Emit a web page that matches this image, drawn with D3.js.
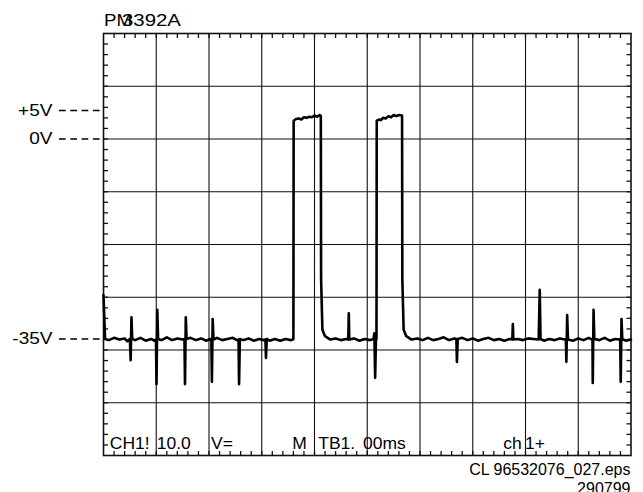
<!DOCTYPE html>
<html><head><meta charset="utf-8">
<script src="https://cdn.jsdelivr.net/npm/d3@7"></script>
<style>html,body{margin:0;padding:0;background:#fff;}svg{display:block;}text{font-family:"Liberation Sans",Arial,sans-serif;fill:#000;}</style>
</head><body><svg id="c" width="643" height="492"></svg>
<script>
// ---- data ----
const title = ["PM", "3392A"];
const levelLabels = ["+5V", "0V", "-35V"];
const levelValues = [5, 0, -35];
const statusTokens = ["CH1!", "10.0", "V=", "M", "TB1.", "00ms", "ch", "1+"];
const statusDivs = [0.12, 1.01, 2.04, 3.58, 4.07, 4.92, 7.58, 7.99];
const footer = ["CL 96532076_027.eps", "290799"];
const timeMs = [
 0,0.03,0.1,0.2,0.3,0.4,0.45,
 0.5,0.515,0.53,0.545,
 0.6,0.7,0.8,0.9,0.97,
 0.995,1.005,1.02,1.035,
 1.1,1.2,1.3,1.4,1.5,
 1.535,1.545,1.56,1.575,
 1.65,1.75,1.85,1.95,2.02,
 2.045,2.055,2.07,2.085,
 2.15,2.25,2.35,2.45,2.53,
 2.56,2.57,2.585,
 2.65,2.75,2.85,2.95,3.04,
 3.07,3.08,3.095,
 3.15,3.25,3.35,3.45,3.55,3.59,
 3.6,3.605,3.65,3.7,3.75,3.8,3.85,3.9,3.95,4.0,4.05,4.1,4.12,4.125,4.15,4.2,4.3,
 4.4,4.5,4.6,4.64,4.65,4.66,
 4.75,4.85,4.95,5.05,5.12,
 5.135,5.15,5.165,
 5.175,5.18,5.22,5.26,5.3,5.35,5.4,5.45,5.5,5.55,5.6,5.66,5.665,5.69,5.74,5.84,
 5.95,6.05,6.15,6.25,6.35,6.45,6.55,6.65,
 6.69,6.7,6.715,
 6.8,6.9,7.0,7.1,7.2,7.3,7.4,7.5,7.6,7.7,7.75,
 7.76,7.77,
 7.85,7.95,8.05,8.15,8.25,
 8.27,8.285,
 8.35,8.45,8.55,8.65,8.75,
 8.765,8.775,8.79,8.805,
 8.9,9.0,9.1,9.2,9.26,
 9.27,9.275,9.29,9.305,
 9.4,9.5,9.6,9.7,9.78,
 9.795,9.805,9.82,9.835,
 9.9,10.0
];
const volts = [
 -27.3,-35.0,-35.2,-34.8,-35.1,-34.9,-35.4,
 -35.0,-38.7,-31.2,-35.0,
 -35.2,-34.8,-35.3,-35.0,-35.3,
 -35.1,-42.9,-29.9,-35.0,
 -35.2,-34.7,-35.2,-34.9,-35.1,
 -35.0,-42.9,-31.2,-35.0,
 -34.8,-35.2,-34.9,-35.3,-35.0,
 -35.0,-42.5,-31.5,-35.1,
 -34.8,-35.2,-35.0,-34.8,-35.2,
 -35.1,-42.9,-35.0,
 -35.2,-34.9,-35.3,-35.0,-35.2,
 -35.1,-38.3,-35.0,
 -35.3,-35.0,-35.3,-35.0,-35.2,-35.1,
 -35.0,3.2,3.5,3.6,3.4,3.8,3.7,3.9,3.8,4.1,3.9,4.2,4.0,-24.5,-33.4,-34.5,-35.1,
 -34.9,-35.2,-35.0,-35.1,-30.5,-35.1,
 -34.9,-35.3,-35.0,-35.2,-35.0,
 -34.0,-41.8,-35.0,
 -35.0,3.2,3.4,3.3,3.7,3.6,4.0,3.8,4.2,4.0,4.2,4.1,-24.5,-33.4,-34.5,-35.1,
 -34.9,-35.2,-34.8,-35.2,-35.0,-34.7,-35.2,-34.9,
 -35.0,-39.0,-35.0,
 -34.8,-35.2,-34.9,-35.3,-35.0,-34.8,-35.2,-35.0,-35.3,-35.0,-35.1,
 -32.4,-35.1,
 -35.0,-35.2,-34.9,-35.0,-35.1,
 -26.4,-35.0,
 -35.3,-35.0,-35.2,-34.9,-35.1,
 -35.0,-39.0,-30.8,-35.1,
 -35.3,-34.9,-35.2,-34.8,-35.1,
 -35.0,-42.7,-29.9,-35.0,
 -35.2,-34.8,-35.3,-35.0,-35.1,
 -35.0,-42.5,-31.5,-35.0,
 -35.3,-35.1
];

// ---- layout ----
const L = 103.5, R = 631, T = 33.5, B = 455.5;
const svg = d3.select("#c");
const xDiv = d3.scaleLinear().domain([0, 10]).range([L, R]);
const yDiv = d3.scaleLinear().domain([0, 8]).range([T, B]);
const x = d3.scaleLinear().domain([0, 10]).range([L, R]);            // ms
const y = d3.scaleLinear().domain([-55.39, 18.46]).range([B, T]);   // volts

// grid
const g = svg.append("g");
g.selectAll("line.v").data(d3.range(1, 10)).join("line")
  .attr("x1", d => xDiv(d)).attr("x2", d => xDiv(d)).attr("y1", T).attr("y2", B)
  .attr("stroke", "#111").attr("stroke-width", 1.1);
g.selectAll("line.h").data(d3.range(1, 8)).join("line")
  .attr("y1", d => yDiv(d)).attr("y2", d => yDiv(d)).attr("x1", L).attr("x2", R)
  .attr("stroke", "#111").attr("stroke-width", 1.1);

// minor ticks on border
const tx = d3.range(1, 50).map(i => i / 5);
const ty = d3.range(1, 40).map(i => i / 5);
const tl = 4.5;
g.selectAll("line.tt").data(tx).join("line")
  .attr("x1", d => xDiv(d)).attr("x2", d => xDiv(d)).attr("y1", T).attr("y2", T + tl)
  .attr("stroke", "#111").attr("stroke-width", 1.3);
g.selectAll("line.tb").data(tx).join("line")
  .attr("x1", d => xDiv(d)).attr("x2", d => xDiv(d)).attr("y1", B).attr("y2", B - tl)
  .attr("stroke", "#111").attr("stroke-width", 1.3);
g.selectAll("line.tl").data(ty).join("line")
  .attr("y1", d => yDiv(d)).attr("y2", d => yDiv(d)).attr("x1", L).attr("x2", L + tl)
  .attr("stroke", "#111").attr("stroke-width", 1.3);
g.selectAll("line.tr").data(ty).join("line")
  .attr("y1", d => yDiv(d)).attr("y2", d => yDiv(d)).attr("x1", R).attr("x2", R - tl)
  .attr("stroke", "#111").attr("stroke-width", 1.3);

// border
g.append("rect").attr("x", L).attr("y", T).attr("width", R - L).attr("height", B - T)
  .attr("fill", "none").attr("stroke", "#111").attr("stroke-width", 1.6);

// level markers
const lv = svg.append("g");
levelValues.forEach((v, i) => {
  lv.append("line").attr("x1", 59).attr("x2", L - 1).attr("y1", y(v)).attr("y2", y(v))
    .attr("stroke", "#000").attr("stroke-width", 1.5).attr("stroke-dasharray", "6.7,4.6");
  lv.append("text").attr("transform", `translate(52.5,${y(v) + 5.5}) scale(1.12,1)`)
    .attr("text-anchor", "end").attr("font-size", 17).text(levelLabels[i]);
});

// title
svg.append("text").attr("transform", "translate(104,26) scale(1.1,1)").attr("font-size", 17).text(title[0]);
svg.append("text").attr("transform", "translate(122,26) scale(1.2,1)").attr("font-size", 17).text(title[1]);

// status line inside screen
statusTokens.forEach((s, i) => {
  svg.append("text").attr("transform", `translate(${xDiv(statusDivs[i])},449) scale(1.03,1)`)
    .attr("font-size", 17).text(s);
});

// footer
svg.append("text").attr("x", 630.5).attr("y", 475).attr("text-anchor", "end")
  .attr("font-size", 16).text(footer[0]);
svg.append("text").attr("x", 630.5).attr("y", 494).attr("text-anchor", "end")
  .attr("font-size", 16).text(footer[1]);

// trace
const pts = timeMs.map((t, i) => [t, volts[i]]);
svg.append("path").datum(pts)
  .attr("d", d3.line().x(d => x(d[0])).y(d => y(d[1])))
  .attr("fill", "none").attr("stroke", "#000").attr("stroke-width", 2.6)
  .attr("stroke-linejoin", "round").attr("stroke-linecap", "round");
</script></body></html>
